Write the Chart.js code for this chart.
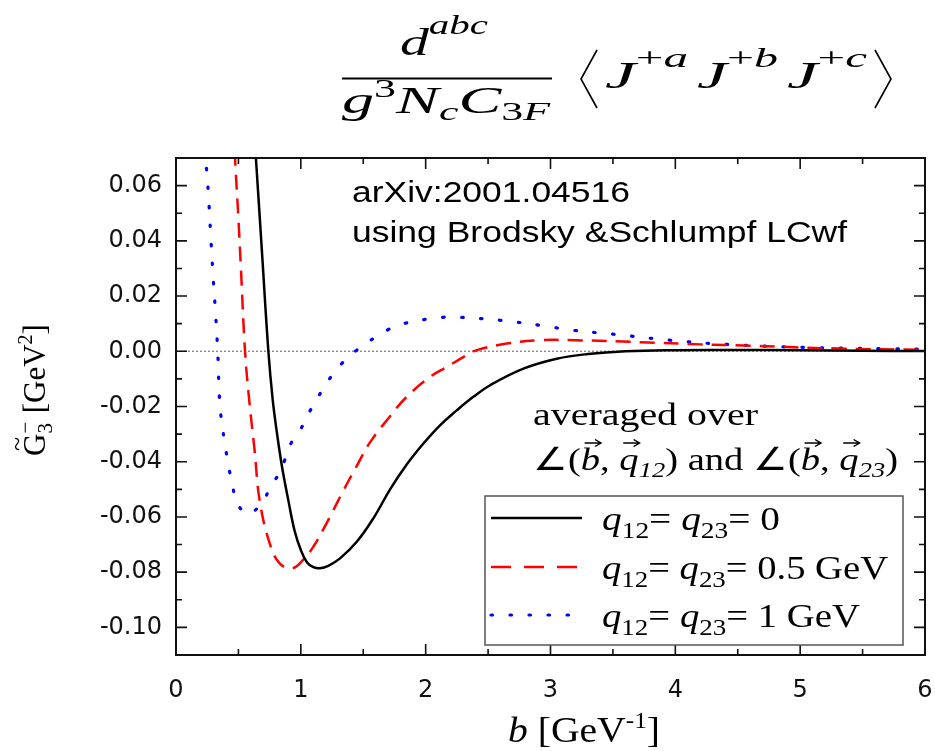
<!DOCTYPE html>
<html>
<head>
<meta charset="utf-8">
<script src="https://cdn.jsdelivr.net/npm/chart.js@4.4.1/dist/chart.umd.min.js"></script>
<style>
  html, body { margin: 0; padding: 0; background: #fff; }
  #wrap { width: 935px; height: 751px; }
</style>
</head>
<body>
<div id="wrap"><canvas id="chart" width="935" height="751"></canvas></div>
<script>
// b in GeV^-1, G3- in GeV^2
const bQ0 = [0.58, 0.64, 0.69, 0.74, 0.775, 0.81, 0.85, 0.90, 0.95, 1.00, 1.05, 1.10, 1.154, 1.22, 1.314, 1.448, 1.581, 1.715, 1.848, 1.982, 2.115, 2.249, 2.382, 2.516, 2.783, 3.05, 3.3, 3.6, 4.0, 4.5, 5.0, 5.5, 6.0];
const gQ0 = [0.11, 0.070, 0.035, 0.0, -0.0177, -0.030, -0.042, -0.054, -0.065, -0.072, -0.0765, -0.0782, -0.0786, -0.0777, -0.0750, -0.0690, -0.0605, -0.0500, -0.0410, -0.0334, -0.0268, -0.0214, -0.0165, -0.0123, -0.0063, -0.0027, -0.0010, 0.0, 0.0004, 0.0005, 0.0004, 0.0002, 0.0001];

const bQ05 = [0.45, 0.475, 0.50, 0.52, 0.553, 0.585, 0.63, 0.67, 0.75, 0.83, 0.93, 1.02, 1.10, 1.18, 1.26, 1.34, 1.448, 1.554, 1.715, 1.848, 2.035, 2.169, 2.33, 2.41, 2.65, 2.92, 3.2, 3.72, 4.2, 4.6, 5.3, 6.0];
const gQ05 = [0.09, 0.068, 0.048, 0.030, 0.0, -0.017, -0.036, -0.054, -0.0695, -0.0768, -0.0786, -0.0755, -0.0708, -0.0645, -0.0576, -0.0505, -0.0415, -0.0330, -0.0235, -0.0165, -0.0093, -0.0057, -0.0014, 0.0004, 0.0028, 0.0040, 0.0040, 0.0033, 0.0025, 0.0020, 0.0010, 0.0005];

const bQ1 = [0.225, 0.238, 0.259, 0.278, 0.299, 0.318, 0.334, 0.353, 0.387, 0.427, 0.454, 0.486, 0.571, 0.687, 0.75, 0.82, 0.87, 0.913, 0.994, 1.047, 1.114, 1.18, 1.26, 1.34, 1.448, 1.69, 1.83, 2.14, 2.28, 2.6, 2.92, 3.18, 3.5, 3.96, 4.41, 5.06, 6.0];
const gQ1 = [0.08, 0.070, 0.0573, 0.042, 0.0257, 0.013, 0.0, -0.020, -0.0322, -0.043, -0.0489, -0.0545, -0.0588, -0.0551, -0.0497, -0.0446, -0.0395, -0.0340, -0.0286, -0.0238, -0.0184, -0.0135, -0.0081, -0.0039, 0.0004, 0.0076, 0.0101, 0.0123, 0.0123, 0.0112, 0.0094, 0.0076, 0.0062, 0.004, 0.0025, 0.0014, 0.0007];

const xTicks = [0, 1, 2, 3, 4, 5, 6];
const yTicks = [-0.10, -0.08, -0.06, -0.04, -0.02, 0.00, 0.02, 0.04, 0.06];
const seriesNames = ['q12= q23= 0', 'q12= q23= 0.5 GeV', 'q12= q23= 1 GeV'];

const SERIF = '"Liberation Serif", "Times New Roman", serif';
const SANS = '"Liberation Sans", Arial, sans-serif';

function pts(bs, gs) {
  return bs.map((b, i) => ({ x: b, y: gs[i] }));
}

// draw a row of text pieces, squeezed/stretched to a given width
function drawRuns(ctx, runs, x, y, width) {
  let w = 0;
  runs.forEach(r => { ctx.font = r.f; w += ctx.measureText(r.t).width; });
  const sx = width ? width / w : 1;
  ctx.save();
  ctx.translate(x, y);
  ctx.scale(sx, 1);
  let cx = 0;
  runs.forEach(r => {
    ctx.font = r.f;
    const tw = ctx.measureText(r.t).width;
    ctx.fillText(r.t, cx, r.dy || 0);
    if (r.arrow) {
      const ay = r.arrow, x0 = cx + tw * 0.2, x1 = cx + tw * 1.05;
      ctx.beginPath();
      ctx.lineWidth = 1.3;
      ctx.moveTo(x0, ay); ctx.lineTo(x1, ay);
      ctx.moveTo(x1 - 5, ay - 3.5); ctx.lineTo(x1, ay); ctx.lineTo(x1 - 5, ay + 3.5);
      ctx.stroke();
    }
    cx += tw;
  });
  ctx.restore();
  return w * sx;
}

const it = s => `italic ${s}px ${SERIF}`;
const rm = s => `${s}px ${SERIF}`;

function legendRuns(tail) {
  return [
    { t: 'q', f: it(33) }, { t: '12', f: rm(23), dy: 8 }, { t: '= ', f: rm(33) },
    { t: 'q', f: it(33) }, { t: '23', f: rm(23), dy: 8 }, { t: '= ' + tail, f: rm(33) }
  ];
}

const decor = {
  id: 'decor',
  beforeDatasetsDraw(chart) {
    const { ctx, chartArea: a, scales: { y } } = chart;
    const y0 = y.getPixelForValue(0);
    ctx.save();
    ctx.strokeStyle = '#8c8c8c';
    ctx.lineWidth = 1.5;
    ctx.setLineDash([2, 2]);
    ctx.beginPath();
    ctx.moveTo(a.left, y0);
    ctx.lineTo(a.right, y0);
    ctx.stroke();
    ctx.restore();
  },
  afterDatasetsDraw(chart) {
    const { ctx, chartArea: a, scales: { x, y } } = chart;
    ctx.save();

    // frame + inward ticks on all four sides
    ctx.strokeStyle = '#111';
    ctx.lineWidth = 2;
    ctx.strokeRect(a.left, a.top, a.right - a.left, a.bottom - a.top);
    ctx.lineWidth = 1.6;
    ctx.beginPath();
    const xMin = [];
    for (let i = 0; i < xTicks.length - 1; i++) xMin.push((xTicks[i] + xTicks[i + 1]) / 2);
    const yMin = [yTicks[0] - 0.01];
    for (let i = 0; i < yTicks.length - 1; i++) yMin.push((yTicks[i] + yTicks[i + 1]) / 2);
    yMin.push(yTicks[yTicks.length - 1] + 0.01);
    xTicks.forEach(v => {
      const p = x.getPixelForValue(v);
      ctx.moveTo(p, a.bottom); ctx.lineTo(p, a.bottom - 11);
      ctx.moveTo(p, a.top); ctx.lineTo(p, a.top + 11);
    });
    xMin.forEach(v => {
      const p = x.getPixelForValue(v);
      ctx.moveTo(p, a.bottom); ctx.lineTo(p, a.bottom - 6);
      ctx.moveTo(p, a.top); ctx.lineTo(p, a.top + 6);
    });
    yTicks.forEach(v => {
      const p = y.getPixelForValue(v);
      ctx.moveTo(a.left, p); ctx.lineTo(a.left + 11, p);
      ctx.moveTo(a.right, p); ctx.lineTo(a.right - 11, p);
    });
    yMin.forEach(v => {
      const p = y.getPixelForValue(v);
      if (p <= a.top + 1 || p >= a.bottom - 1) return;
      ctx.moveTo(a.left, p); ctx.lineTo(a.left + 6, p);
      ctx.moveTo(a.right, p); ctx.lineTo(a.right - 6, p);
    });
    ctx.stroke();

    ctx.fillStyle = '#000';
    ctx.strokeStyle = '#000';
    ctx.textBaseline = 'alphabetic';

    // formula on top
    drawRuns(ctx, [{ t: 'd', f: it(38) }, { t: 'abc', f: it(27), dy: -21 }], 400, 55, 88);
    ctx.lineWidth = 2;
    ctx.beginPath(); ctx.moveTo(342, 78.5); ctx.lineTo(552, 78.5); ctx.stroke();
    drawRuns(ctx, [
      { t: 'g', f: it(38) }, { t: '3', f: rm(26), dy: -16 }, { t: 'N', f: it(38) },
      { t: 'c', f: it(26), dy: 7 }, { t: 'C', f: it(38) }, { t: '3', f: rm(26), dy: 7 }, { t: 'F', f: it(26), dy: 7 }
    ], 342, 113, 208);
    ctx.lineWidth = 1.6;
    ctx.beginPath();
    ctx.moveTo(597, 50); ctx.lineTo(581, 79); ctx.lineTo(597, 108);
    ctx.moveTo(875, 50); ctx.lineTo(891, 79); ctx.lineTo(875, 108);
    ctx.stroke();
    [['a', 605, 83], ['b', 697, 81], ['c', 787, 80]].forEach(([s, px, w]) => {
      drawRuns(ctx, [{ t: 'J', f: it(38) }, { t: '+', f: rm(27), dy: -21 }, { t: s, f: it(27), dy: -21 }], px, 88, w);
    });

    // source note
    drawRuns(ctx, [{ t: 'arXiv:2001.04516', f: `30px ${SANS}` }], 352, 202, 278);
    drawRuns(ctx, [{ t: 'using Brodsky &Schlumpf LCwf', f: `30px ${SANS}` }], 352, 242, 495);

    // averaging note
    drawRuns(ctx, [{ t: 'averaged over', f: rm(32) }], 533, 425, 225);
    drawRuns(ctx, [
      { t: '\u2220(', f: rm(32) }, { t: 'b', f: it(32), arrow: -27 }, { t: ', ', f: rm(32) },
      { t: 'q', f: it(32), arrow: -27 }, { t: '12', f: it(22), dy: 7 }, { t: ') and \u2220(', f: rm(32) },
      { t: 'b', f: it(32), arrow: -27 }, { t: ', ', f: rm(32) },
      { t: 'q', f: it(32), arrow: -27 }, { t: '23', f: it(22), dy: 7 }, { t: ')', f: rm(32) }
    ], 533, 470, 365);

    // legend
    ctx.fillStyle = '#fff';
    ctx.fillRect(485, 496, 418, 149);
    ctx.strokeStyle = '#555';
    ctx.lineWidth = 1.5;
    ctx.strokeRect(485, 496, 418, 149);
    const ds = chart.data.datasets;
    const rowY = [518, 567, 615];
    const tails = ['0', '0.5 GeV', '1 GeV'];
    const widths = [178, 286, 258];
    ds.forEach((d, i) => {
      ctx.save();
      ctx.strokeStyle = d.borderColor;
      ctx.lineWidth = d.borderWidth;
      ctx.lineCap = d.borderCapStyle || 'butt';
      ctx.setLineDash(i === 1 ? [20, 13] : (d.borderDash || []));
      ctx.beginPath();
      ctx.moveTo(491, rowY[i]); ctx.lineTo(582, rowY[i]);
      ctx.stroke();
      ctx.restore();
      ctx.fillStyle = '#000';
      drawRuns(ctx, legendRuns(tails[i]), 602, rowY[i] + 12, widths[i]);
    });

    // axis titles
    drawRuns(ctx, [
      { t: 'b', f: it(36) }, { t: ' [GeV', f: rm(36) }, { t: '-1', f: rm(23), dy: -14 }, { t: ']', f: rm(36) }
    ], 508, 742, 152);

    ctx.save();
    ctx.translate(45, 390);
    ctx.rotate(-Math.PI / 2);
    ctx.font = rm(31);
    const gW = ctx.measureText('G').width;
    ctx.font = rm(21);
    const sW = ctx.measureText('3').width;
    ctx.font = rm(31);
    const restW = ctx.measureText(' [GeV]').width;
    ctx.font = rm(20);
    const supW = ctx.measureText('2').width;
    const total = gW + sW + 2 + restW + supW;
    let cx = -total / 2;
    ctx.font = rm(31);
    ctx.fillText('G', cx, 0);
    ctx.font = rm(26);
    ctx.fillText('~', cx + gW * 0.22, -20);
    cx += gW;
    ctx.font = rm(21);
    ctx.fillText('3', cx, 7);
    ctx.fillText('\u2212', cx, -13);
    cx += sW + 2;
    ctx.font = rm(31);
    ctx.fillText(' [GeV', cx, 0);
    cx += ctx.measureText(' [GeV').width;
    ctx.font = rm(20);
    ctx.fillText('2', cx, -13);
    cx += supW;
    ctx.font = rm(31);
    ctx.fillText(']', cx, 0);
    ctx.restore();

    ctx.restore();
  }
};

const chart = new Chart(document.getElementById('chart'), {
  type: 'line',
  data: {
    datasets: [
      {
        label: seriesNames[0],
        data: pts(bQ0, gQ0),
        borderColor: '#000000',
        borderWidth: 2.5,
        borderDash: [],
      },
      {
        label: seriesNames[1],
        data: pts(bQ05, gQ05),
        borderColor: '#ff0000',
        borderWidth: 2.5,
        borderDash: [15, 9],
      },
      {
        label: seriesNames[2],
        data: pts(bQ1, gQ1),
        borderColor: '#0000ff',
        borderWidth: 3.2,
        borderDash: [1.5, 17.5],
        borderCapStyle: 'round',
      }
    ].map(d => Object.assign(d, {
      pointRadius: 0,
      fill: false,
      tension: 0.4,
      clip: 0
    }))
  },
  options: {
    responsive: false,
    animation: false,
    devicePixelRatio: 1,
    layout: { padding: { left: 0, top: 158, right: 10, bottom: 0 } },
    plugins: {
      legend: { display: false },
      tooltip: { enabled: false }
    },
    scales: {
      x: {
        type: 'linear',
        min: 0,
        max: 6,
        grid: { display: false, drawTicks: false },
        border: { display: false },
        afterBuildTicks: s => { s.ticks = xTicks.map(v => ({ value: v })); },
        afterFit: s => { s.height = 96; s.paddingLeft = 0; s.paddingRight = 0; },
        ticks: {
          padding: 21,
          color: '#111',
          font: { family: '"DejaVu Sans", sans-serif', size: 24 },
          callback: v => String(v)
        }
      },
      y: {
        type: 'linear',
        min: -0.11,
        max: 0.07,
        grid: { display: false, drawTicks: false },
        border: { display: false },
        afterBuildTicks: s => { s.ticks = yTicks.map(v => ({ value: v })); },
        afterFit: s => { s.width = 176; s.paddingTop = 0; s.paddingBottom = 0; },
        ticks: {
          padding: 14,
          color: '#111',
          font: { family: '"DejaVu Sans", sans-serif', size: 24 },
          callback: v => v.toFixed(2)
        }
      }
    }
  },
  plugins: [decor]
});
</script>
</body>
</html>
